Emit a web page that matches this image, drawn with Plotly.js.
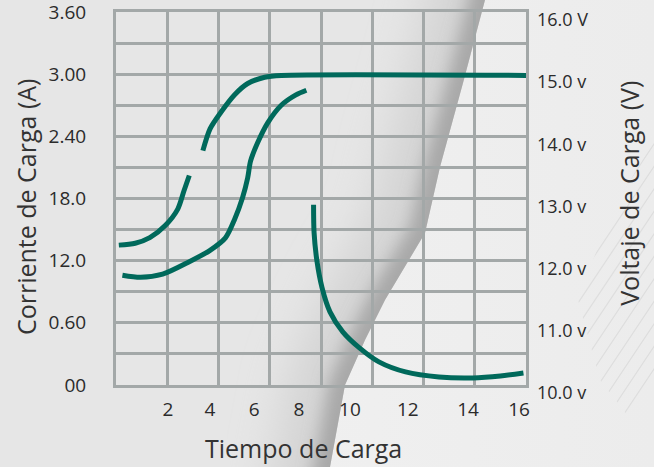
<!DOCTYPE html>
<html>
<head>
<meta charset="utf-8">
<script src="https://cdn.plot.ly/plotly-3.0.1.min.js"></script>
<style>
html,body{margin:0;padding:0;width:654px;height:467px;overflow:hidden;background:#e6e6e6;}
#bg{position:absolute;left:0;top:0;}
#chart{position:absolute;left:0;top:0;width:654px;height:467px;}
</style>
</head>
<body>
<svg id="bg" width="654" height="467" xmlns="http://www.w3.org/2000/svg">
  <defs>
    <clipPath id="leftClip"><path d="M0 0 L485 0 L463 83 L440 167 L425 233 L385 300 L365 340 L345 385 L330 467 L0 467 Z"/></clipPath>
    <clipPath id="featherClip"><path d="M654 140 L610 215 L578 300 L600 380 L654 450 Z"/></clipPath>
    <filter id="blur" x="-50%" y="-50%" width="200%" height="200%"><feGaussianBlur stdDeviation="22"/></filter>
    <filter id="blur2" x="-50%" y="-50%" width="200%" height="200%"><feGaussianBlur stdDeviation="8"/></filter>
    <linearGradient id="rightG" x1="0" y1="0" x2="1" y2="0">
      <stop offset="0" stop-color="#f3f3f3"/>
      <stop offset="1" stop-color="#ececec"/>
    </linearGradient>
  </defs>
  <rect x="0" y="0" width="654" height="467" fill="url(#rightG)"/>
  <g clip-path="url(#leftClip)">
    <rect x="0" y="0" width="654" height="467" fill="#e6e6e6"/>
    <path d="M500 -60 L485 0 L463 83 L440 167 L425 233 L385 300 L365 340 L345 385 L330 467 L318 530" fill="none" stroke="#d3d3d3" stroke-width="110" filter="url(#blur)"/>
    <path d="M500 -60 L485 0 L463 83 L440 167 L425 233 L385 300 L365 340 L345 385 L330 467 L318 530" fill="none" stroke="#a8a8a8" stroke-width="32" filter="url(#blur2)"/>
  </g>
  <g clip-path="url(#featherClip)" stroke-width="1.2" opacity="0.3">
    <g stroke="#bdbdbd">
      <line x1="545" y1="285" x2="665" y2="105"/>
      <line x1="550" y1="300" x2="670" y2="120"/>
      <line x1="555" y1="315" x2="675" y2="135"/>
      <line x1="560" y1="330" x2="680" y2="150"/>
      <line x1="565" y1="345" x2="685" y2="165"/>
      <line x1="570" y1="360" x2="690" y2="180"/>
      <line x1="575" y1="375" x2="695" y2="195"/>
      <line x1="580" y1="390" x2="700" y2="210"/>
      <line x1="585" y1="405" x2="705" y2="225"/>
      <line x1="590" y1="420" x2="710" y2="240"/>
      <line x1="595" y1="435" x2="715" y2="255"/>
      <line x1="600" y1="450" x2="720" y2="270"/>
    </g>
  </g>
</svg>
<div id="chart"></div>
<script>
// Tick labels as printed on the chart
const xLabels = ['2','4','6','8','10','12','14','16'];
const xLabelPos = [2.03, 3.67, 5.39, 7.14, 9.13, 11.39, 13.74, 15.73];
const xGrid = [0, 2, 4, 6, 8, 10, 12, 14, 16];
const yLeftLabels = ['00','0.60','12.0','18.0','2.40','3.00','3.60'];
const yLeftVals = [0, 0.6, 1.2, 1.8, 2.4, 3.0, 3.6];
const yGrid = [0, 0.3, 0.6, 0.9, 1.2, 1.5, 1.8, 2.1, 2.4, 2.7, 3.0, 3.3, 3.6];
const yRightLabels = ['10.0 v','11.0 v','12.0 v','13.0 v','14.0 v','15.0 v','16.0 V'];
const yRightVals = [10, 11, 12, 13, 14, 15, 16];

// Voltage curve (time in h, volts on right axis)
const timeA1 = [0.11, 0.75, 1.32, 1.93, 2.41, 2.65, 2.86];
const voltA1 = [12.25, 12.28, 12.37, 12.57, 12.83, 13.12, 13.37];
const timeA2 = [3.39, 3.67, 4.08, 4.63, 5.14, 5.80, 6.45, 16.0];
const voltA2 = [13.77, 14.12, 14.38, 14.67, 14.85, 14.95, 14.98, 14.98];
// Current curves (time in h, amps on left axis)
const timeB  = [0.25, 0.96, 1.82, 2.86, 3.67, 4.27, 4.63, 4.94, 5.14, 5.25, 5.53, 5.92, 6.45, 7.02, 7.43];
const valB   = [1.06, 1.04, 1.07, 1.19, 1.30, 1.42, 1.60, 1.81, 2.00, 2.16, 2.34, 2.53, 2.70, 2.80, 2.845];
const timeC  = [7.71, 7.73, 7.84, 8.04, 8.35, 8.85, 9.5, 10.26, 11.3, 12.6, 13.92, 15.0, 15.9];
const valC   = [1.74, 1.47, 1.2, 0.94, 0.706, 0.513, 0.358, 0.223, 0.126, 0.077, 0.068, 0.087, 0.116];

const lineColor = '#00695b';
const gridColor = '#a3a8a8';
const textColor = '#2b2b2b';

function curve(x, y, xa, ya) {
  return {x: x, y: y, type: 'scatter', mode: 'lines', xaxis: xa, yaxis: ya,
          line: {color: lineColor, width: 5, shape: 'spline', smoothing: 0.8},
          hoverinfo: 'skip'};
}

const traces = [
  curve(timeA1, voltA1, 'x', 'y2'),
  curve(timeA2, voltA2, 'x', 'y2'),
  curve(timeB, valB, 'x', 'y'),
  curve(timeC, valC, 'x2', 'y')
];

const yTickText = yGrid.map(v => {
  const i = yLeftVals.findIndex(t => Math.abs(t - v) < 1e-9);
  return i >= 0 ? yLeftLabels[i] : '';
});

const layout = {
  width: 654, height: 467,
  margin: {l: 116, r: 128, t: 12, b: 82, pad: 0},
  paper_bgcolor: 'rgba(0,0,0,0)',
  plot_bgcolor: 'rgba(0,0,0,0)',
  showlegend: false,
  font: {family: 'Open Sans, sans-serif', color: textColor, size: 19},
  xaxis: {
    range: [0, 16], tickmode: 'array', tickvals: xGrid, showticklabels: false,
    showgrid: true, gridcolor: gridColor, gridwidth: 3, zeroline: false,
    showline: true, mirror: true, linecolor: gridColor, linewidth: 3, ticks: '', fixedrange: true
  },
  xaxis2: {
    range: [0, 16], overlaying: 'x', anchor: 'y', side: 'bottom',
    tickmode: 'array', tickvals: xLabelPos, ticktext: xLabels,
    showgrid: false, zeroline: false, showline: false, ticks: '',
    ticklabelstandoff: 11, ticklabeloverflow: 'allow', tickfont: {size: 19, color: textColor}, fixedrange: true
  },
  yaxis: {
    range: [0, 3.6], tickmode: 'array', tickvals: yGrid, ticktext: yTickText,
    showgrid: true, gridcolor: gridColor, gridwidth: 3, zeroline: false,
    showline: true, mirror: true, linecolor: gridColor, linewidth: 3, ticks: '',
    ticklabelstandoff: 23, ticklabeloverflow: 'allow', tickfont: {size: 19, color: textColor}, fixedrange: true
  },
  yaxis2: {
    range: [10, 16], overlaying: 'y', side: 'right', anchor: 'x',
    tickmode: 'array', tickvals: yRightVals, ticktext: yRightLabels,
    showgrid: false, zeroline: false, showline: false, ticks: '',
    ticklabelstandoff: 10, ticklabelshift: 8, ticklabeloverflow: 'allow',
    tickfont: {size: 18, color: textColor}, fixedrange: true
  },
  annotations: [
    {text: 'Tiempo de Carga', xref: 'paper', yref: 'paper', x: 0.4585, y: -0.169,
     xanchor: 'center', yanchor: 'middle', showarrow: false, font: {size: 25, color: '#333333'}},
    {text: 'Corriente de Carga (A)', xref: 'paper', yref: 'paper', x: -0.2195, y: 0.477,
     xanchor: 'center', yanchor: 'middle', textangle: -90, showarrow: false, font: {size: 25, color: '#333333'}},
    {text: 'Voltaje de Carga (V)', xref: 'paper', yref: 'paper', x: 1.251, y: 0.515,
     xanchor: 'center', yanchor: 'middle', textangle: -90, showarrow: false, font: {size: 25, color: '#333333'}}
  ]
};

Plotly.newPlot('chart', traces, layout, {displayModeBar: false, staticPlot: true});
</script>
</body>
</html>
